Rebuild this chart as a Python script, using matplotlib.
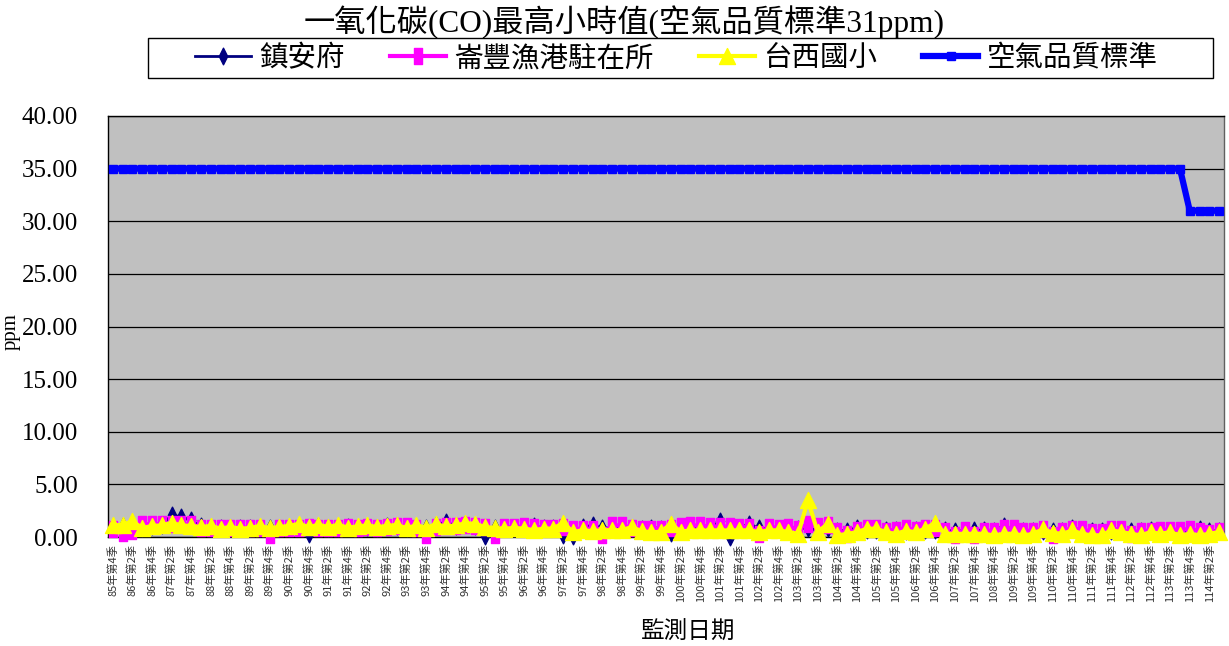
import matplotlib
matplotlib.use("Agg")
import matplotlib.pyplot as plt
from matplotlib.path import Path
from matplotlib.patches import Rectangle

FAM = ["Liberation Serif", "Noto Sans CJK TC", "DejaVu Sans"]
CJK = ["Noto Sans CJK TC", "Liberation Serif", "DejaVu Sans"]
plt.rcParams["font.family"] = FAM

# ---------------- data ----------------
title = "一氧化碳(CO)最高小時值(空氣品質標準31ppm)"
series_names = ["鎮安府", "崙豐漁港駐在所", "台西國小", "空氣品質標準"]
skip_quarters = [(108, 1), (108, 3)]
categories = [f"{y}年第{q}季" for y in range(85, 115) for q in range(1, 5)
              if (85, 4) <= (y, q) <= (114, 3) and (y, q) not in skip_quarters]

zhenanfu = [0.9, 1.0, 1.0, 0.9, 1.0, 1.1, 2.1, 1.9, 1.6, 1.0, 0.9, 0.85, 0.9, 0.85, 0.9, 0.9, 0.85, 0.85, 0.9,
            0.95, 0.3, 1.05, 0.9, 0.9, 0.95, 0.9, 0.95, 0.9, 1.0, 1.0, 0.9, 0.95, 0.9, 1.1, 1.45, 1.0, 1.25,
            1.0, 0.05, 0.9, 0.85, 0.9, 0.9, 1.0, 0.9, 0.85, 0.15, 0.05, 0.95, 1.1, 0.85, 0.85, 0.8, 0.85, 0.8, 0.9,
            0.8, 0.4, 0.8, 0.85, 0.8, 0.85, 1.5, 0.0, 0.9, 1.2, 0.85, 0.8, 0.8, 0.85, 0.8, 0.9, 0.6, 0.85, 0.6,
            0.6, 0.9, 0.7, 0.7, 0.65, 0.65, 0.6, 0.65, 0.7, 0.7, 0.65, 0.55, 0.6, 0.65, 0.65, 0.6, 1.0, 0.6, 0.55,
            0.55, 0.6, 0.6, 0.6, 0.85, 0.6, 0.55, 0.55, 0.6, 0.55, 0.55, 0.55, 0.65, 0.5, 0.6, 0.55, 0.55, 0.75, 0.55, 0.6]

lunfeng = [0.75, 0.4, 0.6, 1.2, 1.25, 1.25, 1.2, 1.2, 1.2, 0.9, 0.85, 0.85, 0.85, 0.9, 0.9, 0.85, 0.2, 0.85, 0.85,
           0.9, 0.95, 0.9, 0.85, 0.9, 0.95, 0.9, 0.95, 0.9, 0.95, 1.05, 1.05, 0.9, 0.2, 0.95, 1.0, 1.05, 1.1,
           1.0, 0.95, 0.15, 0.95, 0.95, 1.0, 0.95, 0.9, 0.9, 0.95, 0.8, 0.75, 0.8, 0.2, 1.1, 1.1, 0.9, 0.75, 0.75,
           0.8, 0.9, 1.05, 1.1, 1.1, 1.0, 1.0, 1.0, 0.95, 0.95, 0.3, 0.95, 0.9, 0.95, 0.8, 1.2, 1.05, 1.1, 0.6,
           0.3, 0.7, 0.85, 0.85, 0.6, 0.7, 0.85, 0.7, 0.9, 0.9, 0.6, 0.2, 0.65, 0.2, 0.6, 0.6, 0.85, 0.85, 0.6,
           0.6, 0.75, 0.2, 0.6, 0.75, 0.75, 0.5, 0.5, 0.75, 0.75, 0.3, 0.6, 0.6, 0.7, 0.7, 0.7, 0.75, 0.6, 0.35, 0.6]

taixi = [1.1, 1.15, 1.5, 0.85, 1.05, 1.1, 1.35, 1.1, 1.05, 0.95, 1.05, 0.8, 0.95, 0.8, 0.85, 1.05, 0.85, 0.95, 1.05,
         1.25, 0.95, 1.15, 0.95, 1.15, 0.9, 1.0, 1.1, 0.95, 1.05, 1.15, 0.85, 1.1, 0.9, 1.2, 1.0, 1.1, 1.3,
         1.26, 0.95, 0.85, 0.8, 0.85, 0.8, 0.65, 0.8, 0.8, 1.36, 0.45, 0.65, 0.55, 0.65, 0.65, 0.65, 0.95, 0.55, 0.45,
         0.5, 1.26, 0.5, 0.63, 0.63, 0.63, 0.63, 0.63, 0.63, 0.63, 0.47, 0.63, 0.63, 0.47, 0.3, 3.5, 0.45, 1.26, 0.15,
         0.3, 0.45, 0.79, 0.79, 0.45, 0.3, 0.6, 0.45, 0.79, 1.36, 0.3, 0.3, 0.3, 0.3, 0.3, 0.15, 0.3, 0.3, 0.15,
         0.3, 0.75, 0.4, 0.3, 0.63, 0.3, 0.16, 0.16, 0.63, 0.47, 0.3, 0.16, 0.47, 0.3, 0.47, 0.16, 0.3, 0.16, 0.3, 0.47]

standard = [35.0] * 110 + [31.0] * 4

y_ticks = [0, 5, 10, 15, 20, 25, 30, 35, 40]

# ---------------- figure ----------------
W, H = 1229, 646
fig = plt.figure(figsize=(W / 100, H / 100), dpi=100)
fig.patch.set_facecolor("white")
ax = fig.add_axes([108 / W, 1 - 537 / H, (1224 - 108) / W, (537 - 116) / H])
ax.set_facecolor("#C0C0C0")

x = list(range(len(categories)))

sq = Path([(-0.5, -1), (0.5, -1), (0.5, 1), (-0.5, 1), (-0.5, -1)], closed=True)
dia = Path([(0, 1), (0.5, 0), (0, -1), (-0.5, 0), (0, 1)], closed=True)
tri = Path([(0, 1), (1, -1), (-1, -1), (0, 1)], closed=True)

ax.plot(x, zhenanfu, color="#000080", lw=2.0, marker=dia, ms=12, mec="#000080",
        mfc="#000080", clip_on=False, label=series_names[0], zorder=3)
ax.plot(x, lunfeng, color="#FF00FF", lw=3.0, marker=sq, ms=11.5, mec="#FF00FF",
        mfc="#FF00FF", clip_on=False, label=series_names[1], zorder=4)
ax.plot(x, taixi, color="#FFFF00", lw=3.0, marker=tri, ms=11.5, mec="#FFFF00",
        mfc="#FFFF00", clip_on=False, label=series_names[2], zorder=5)
ax.plot(x, standard, color="#0000FF", lw=4.5, marker="s", ms=5.5, mec="#0000FF",
        mfc="#0000FF", clip_on=False, label=series_names[3], zorder=6)

ax.set_xlim(-0.5, len(categories) - 0.5)
ax.set_ylim(0, 40)
ax.set_yticks(y_ticks)
ax.set_yticklabels([f"{v:.2f}" for v in y_ticks], fontsize=18, family=FAM)
ax.tick_params(axis="y", length=0, pad=21.5)
ax.set_xticks(x[::2])
ax.set_xticklabels(categories[::2], rotation=90, fontsize=8, family=CJK, color="#333333")
ax.tick_params(axis="x", length=0, pad=5)
ax.yaxis.grid(True, color="black", lw=0.9)
ax.set_axisbelow(True)
for s in ax.spines.values():
    s.set_color("black")
    s.set_linewidth(1.0)
ax.spines["right"].set_color("#606060")

# title
fig.text(624 / W, 1 - 22 / H, title, ha="center", va="center", fontsize=22.5, family=FAM)

# legend frame + legend
fig.patches.append(Rectangle((148 / W, 1 - 78 / H), (1213 - 148) / W, 40 / H,
                             transform=fig.transFigure, fill=False, edgecolor="black", lw=1.0))
handles, labels = ax.get_legend_handles_labels()
fig.legend(handles, labels, loc="center left", bbox_to_anchor=(195 / W, 1 - 58 / H),
           ncol=4, frameon=False, borderpad=0, borderaxespad=0,
           handlelength=1.95, handletextpad=0.3, columnspacing=1.6,
           prop={"family": CJK, "size": 20.5})

# axis labels
fig.text(11 / W, 1 - 332 / H, "ppm", rotation=90, ha="center", va="center", fontsize=15, family=FAM)
fig.text(688 / W, 1 - 632 / H, "監測日期", ha="center", va="center", fontsize=17, family=CJK)

fig.savefig("out.png", dpi=100)
